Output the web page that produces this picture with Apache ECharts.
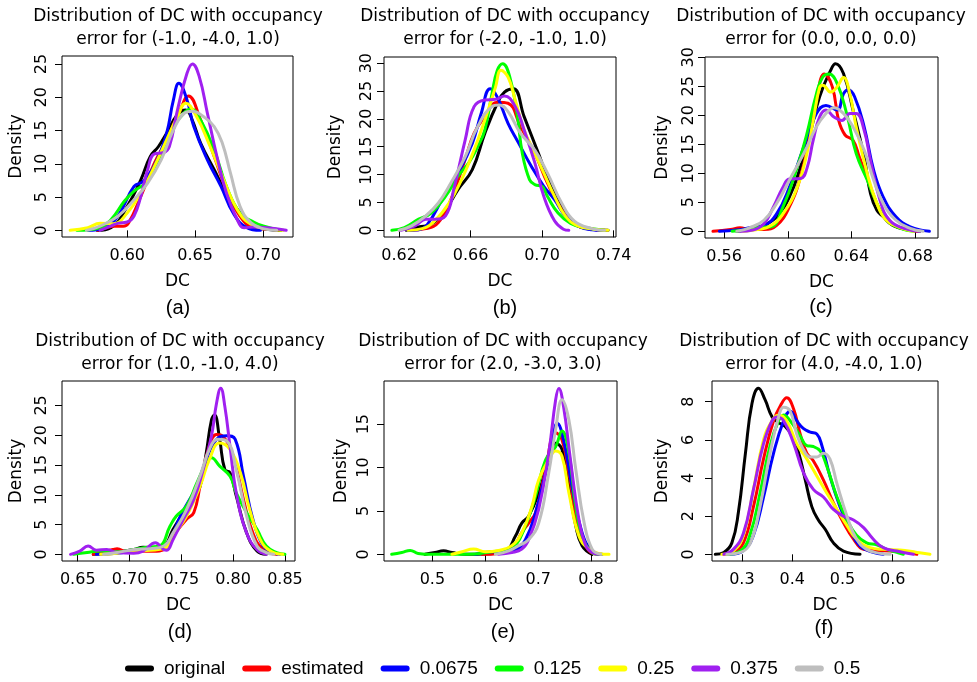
<!DOCTYPE html>
<html><head><meta charset="utf-8">
<script src="https://cdn.jsdelivr.net/npm/echarts@6/dist/echarts.min.js"></script>
<style>html,body{margin:0;padding:0;background:#fff}#c{width:977px;height:682px}</style>
</head><body><div id="c"></div>
<script>
// ---------- categories / labels ----------
const seriesNames = ['original', 'estimated', '0.0675', '0.125', '0.25', '0.375', '0.5'];
const seriesColors = ['#000000', '#ff0000', '#0000ff', '#00ff00', '#ffff00', '#a020f0', '#bebebe'];
const panelTitles = [
  'Distribution of DC with occupancy\nerror for (-1.0, -4.0, 1.0)',
  'Distribution of DC with occupancy\nerror for (-2.0, -1.0, 1.0)',
  'Distribution of DC with occupancy\nerror for (0.0, 0.0, 0.0)',
  'Distribution of DC with occupancy\nerror for (1.0, -1.0, 4.0)',
  'Distribution of DC with occupancy\nerror for (2.0, -3.0, 3.0)',
  'Distribution of DC with occupancy\nerror for (4.0, -4.0, 1.0)'
];
const panelCaptions = ['(a)', '(b)', '(c)', '(d)', '(e)', '(f)'];
const xAxisName = 'DC';
const yAxisName = 'Density';

// ---------- tick labels ----------
const xTicksA = [0.60, 0.65, 0.70];
const xTicksB = [0.62, 0.66, 0.70, 0.74];
const xTicksC = [0.56, 0.60, 0.64, 0.68];
const xTicksD = [0.65, 0.70, 0.75, 0.80, 0.85];
const xTicksE = [0.5, 0.6, 0.7, 0.8];
const xTicksF = [0.3, 0.4, 0.5, 0.6];
const yTicksA = [0, 5, 10, 15, 20, 25];
const yTicksB = [0, 5, 10, 15, 20, 25, 30];
const yTicksC = [0, 5, 10, 15, 20, 25, 30];
const yTicksD = [0, 5, 10, 15, 20, 25];
const yTicksE = [0, 5, 10, 15];
const yTicksF = [0, 2, 4, 6, 8];

// ---------- density curves [DC, density] ----------
// panel (a)
const a_original = [[0.578,0],[0.588,0.4],[0.600,3.6],[0.610,7.6],[0.617,11.1],[0.623,12.6],[0.629,14.6],[0.637,17.4],[0.643,18.1],[0.648,16.5],[0.654,13.1],[0.664,9.1],[0.673,5.6],[0.683,2.6],[0.693,0.65],[0.703,0.15],[0.712,0]];
const a_estimated = [[0.578,0],[0.585,0.4],[0.590,0.6],[0.597,0.6],[0.601,1.1],[0.610,5.1],[0.620,10.1],[0.629,13.6],[0.639,18.1],[0.645,20.2],[0.654,16.6],[0.664,11.1],[0.673,6.1],[0.683,2.1],[0.693,0.4],[0.703,0.2],[0.713,0]];
const a_0_0675 = [[0.571,0],[0.583,0.3],[0.593,2.1],[0.605,6.6],[0.612,7.4],[0.622,10.6],[0.629,14.6],[0.634,19.6],[0.638,22.1],[0.644,19.6],[0.649,15.6],[0.659,10.6],[0.669,6.6],[0.678,2.6],[0.688,0.4],[0.698,0]];
const a_0_125 = [[0.563,0],[0.580,0.4],[0.588,1.6],[0.598,4.4],[0.605,5.9],[0.615,7.4],[0.625,11.6],[0.634,15.6],[0.643,17.9],[0.647,18.25],[0.654,16.6],[0.664,12.1],[0.673,6.6],[0.683,2.6],[0.693,1.25],[0.700,0.65],[0.713,0]];
const a_0_25 = [[0.558,0],[0.571,0.4],[0.580,1.05],[0.590,1.0],[0.600,2.6],[0.610,5.6],[0.620,9.6],[0.629,13.6],[0.637,17.1],[0.643,19.1],[0.651,17.1],[0.661,12.6],[0.671,7.6],[0.681,3.1],[0.691,0.9],[0.703,0.25],[0.715,0]];
const a_0_375 = [[0.580,0],[0.588,0.65],[0.593,1.05],[0.600,1.25],[0.605,2.15],[0.610,5.1],[0.615,9.1],[0.620,11.5],[0.627,11.7],[0.631,12.6],[0.637,18.1],[0.644,23.6],[0.648,25.0],[0.653,23.1],[0.659,17.6],[0.666,11.1],[0.673,5.6],[0.681,1.6],[0.686,0.4],[0.693,0.5],[0.703,0.4],[0.717,0]];
const a_0_5 = [[0.570,0],[0.580,0.65],[0.593,2.1],[0.605,4.6],[0.615,7.1],[0.625,10.6],[0.634,15.1],[0.642,17.6],[0.648,17.9],[0.656,17.1],[0.664,15.6],[0.670,13.1],[0.676,8.6],[0.683,3.6],[0.691,1.15],[0.700,0.25],[0.710,0]];
// panel (b)
const b_original = [[0.624,0],[0.631,0.6],[0.638,1.1],[0.646,3.7],[0.653,7.3],[0.661,10.9],[0.668,17.4],[0.675,22.8],[0.679,24.8],[0.684,25.4],[0.690,20.4],[0.698,13.8],[0.705,7.9],[0.713,3.1],[0.720,0.8],[0.728,0.2],[0.737,0]];
const b_estimated = [[0.626,0],[0.635,0.3],[0.642,1.4],[0.649,5.5],[0.657,12.7],[0.662,17.4],[0.668,20.4],[0.675,23.0],[0.681,22.8],[0.688,18.6],[0.696,13.8],[0.703,8.5],[0.711,3.7],[0.718,1.1],[0.728,0.2],[0.735,0]];
const b_0_0675 = [[0.625,0],[0.631,0.1],[0.636,1.1],[0.644,5.5],[0.653,10.3],[0.661,15.6],[0.666,21.0],[0.671,25.4],[0.675,23.9],[0.681,19.2],[0.687,15.6],[0.694,11.5],[0.701,7.9],[0.707,5.5],[0.713,2.6],[0.720,0.8],[0.728,0.1],[0.733,0]];
const b_0_125 = [[0.616,0],[0.623,0.5],[0.631,2.0],[0.638,3.1],[0.646,6.1],[0.653,9.7],[0.659,12.1],[0.664,15.0],[0.668,18.0],[0.672,24.5],[0.675,28.7],[0.678,29.9],[0.682,27.5],[0.686,21.0],[0.689,13.8],[0.693,9.1],[0.696,8.2],[0.700,7.9],[0.703,6.1],[0.709,3.1],[0.716,1.25],[0.724,0.5],[0.735,0]];
const b_0_25 = [[0.625,0],[0.633,0.3],[0.640,1.7],[0.648,4.9],[0.655,9.1],[0.662,14.4],[0.668,19.8],[0.674,25.7],[0.677,28.7],[0.681,27.5],[0.685,23.4],[0.690,18.0],[0.696,13.8],[0.701,10.3],[0.707,6.1],[0.713,2.6],[0.720,0.8],[0.729,0.2],[0.737,0]];
const b_0_375 = [[0.621,0],[0.629,0.8],[0.635,2.0],[0.640,2.0],[0.646,2.6],[0.651,7.9],[0.657,16.2],[0.662,22.2],[0.668,23.4],[0.674,23.5],[0.679,24.1],[0.685,22.2],[0.690,18.0],[0.696,12.1],[0.701,6.1],[0.707,1.7],[0.712,0.2],[0.715,0]];
const b_0_5 = [[0.620,0],[0.627,0.8],[0.635,2.6],[0.642,4.9],[0.649,8.5],[0.657,13.2],[0.664,18.6],[0.672,22.2],[0.676,22.5],[0.681,21.3],[0.688,17.4],[0.696,14.4],[0.703,10.3],[0.711,4.9],[0.718,1.7],[0.728,0.3],[0.735,0]];
// panel (c)
const c_original = [[0.568,0],[0.576,0.3],[0.585,1.0],[0.593,2.5],[0.601,5.9],[0.608,11.1],[0.614,16.8],[0.620,23.2],[0.627,27.8],[0.630,28.9],[0.635,27.2],[0.641,20.9],[0.648,12.8],[0.652,6.5],[0.656,3.6],[0.660,2.5],[0.666,1.0],[0.675,0.3],[0.683,0]];
const c_estimated = [[0.553,0],[0.564,0.3],[0.570,0.6],[0.576,0.3],[0.585,0.3],[0.593,1.0],[0.601,4.2],[0.608,9.4],[0.614,16.8],[0.618,22.6],[0.623,27.1],[0.628,24.9],[0.632,19.1],[0.636,16.6],[0.641,15.7],[0.645,12.8],[0.652,7.6],[0.658,3.6],[0.664,1.4],[0.673,0.5],[0.681,0]];
const c_0_0675 = [[0.557,0],[0.568,0.2],[0.576,0.6],[0.585,1.0],[0.593,3.0],[0.601,7.6],[0.610,14.5],[0.618,20.3],[0.624,21.7],[0.631,20.9],[0.635,23.7],[0.638,24.4],[0.642,23.2],[0.648,18.0],[0.654,10.5],[0.660,5.9],[0.668,2.5],[0.677,0.75],[0.689,0]];
const c_0_125 = [[0.565,0],[0.576,0.3],[0.583,0.75],[0.589,0.75],[0.597,4.2],[0.606,11.1],[0.612,16.8],[0.618,23.7],[0.622,26.6],[0.626,27.1],[0.631,25.5],[0.637,20.3],[0.643,13.4],[0.650,8.8],[0.656,4.8],[0.662,1.9],[0.671,0.5],[0.679,0]];
const c_0_25 = [[0.572,0],[0.581,0.3],[0.589,0.9],[0.597,3.0],[0.606,7.6],[0.612,13.4],[0.616,19.1],[0.620,24.8],[0.622,25.2],[0.627,24.0],[0.631,24.9],[0.635,26.5],[0.639,23.7],[0.643,18.0],[0.650,9.9],[0.656,4.8],[0.662,1.9],[0.671,0.6],[0.679,0]];
const c_0_375 = [[0.570,0],[0.578,0.2],[0.585,1.3],[0.591,4.2],[0.597,7.6],[0.601,9.0],[0.608,9.1],[0.612,10.8],[0.616,15.7],[0.620,19.7],[0.624,20.9],[0.629,19.7],[0.634,19.1],[0.639,20.3],[0.643,20.3],[0.648,17.4],[0.652,12.2],[0.658,5.3],[0.664,1.9],[0.673,0.5],[0.683,0]];
const c_0_5 = [[0.568,0],[0.576,0.6],[0.585,1.9],[0.593,4.8],[0.601,8.8],[0.610,13.4],[0.618,18.0],[0.624,20.3],[0.629,21.3],[0.635,20.3],[0.641,18.0],[0.648,14.0],[0.654,8.8],[0.660,4.8],[0.668,1.9],[0.677,0.5],[0.685,0]];
// panel (d)
const d_original = [[0.665,0],[0.672,0.1],[0.688,0.4],[0.704,0.8],[0.713,1.2],[0.723,1.1],[0.733,1.4],[0.742,4.2],[0.752,7.0],[0.758,8.4],[0.768,11.4],[0.774,17.0],[0.779,22.5],[0.782,23.4],[0.787,19.3],[0.792,14.2],[0.797,13.7],[0.803,9.8],[0.813,3.6],[0.823,0.55],[0.832,0]];
const d_estimated = [[0.665,0],[0.672,0.3],[0.684,0.8],[0.688,0.95],[0.697,0.4],[0.710,0.55],[0.723,0.5],[0.733,0.8],[0.742,3.1],[0.755,5.9],[0.762,7.0],[0.768,11.4],[0.776,17.6],[0.784,20.1],[0.790,19.8],[0.800,16.5],[0.810,9.2],[0.819,3.6],[0.829,0.8],[0.842,0]];
const d_0_0675 = [[0.668,0],[0.688,0.2],[0.704,0.55],[0.717,0.8],[0.729,0.95],[0.739,2.5],[0.749,6.4],[0.757,8.9],[0.765,11.4],[0.774,15.9],[0.784,19.3],[0.794,19.9],[0.802,19.3],[0.810,13.1],[0.819,5.9],[0.829,1.4],[0.839,0.3],[0.845,0]];
const d_0_125 = [[0.646,0],[0.659,0.3],[0.672,0.55],[0.688,0.4],[0.704,0.8],[0.717,1.2],[0.729,1.4],[0.739,4.7],[0.745,6.4],[0.755,8.1],[0.765,12.0],[0.774,15.3],[0.779,16.2],[0.787,14.8],[0.797,13.1],[0.803,10.3],[0.813,7.0],[0.823,4.2],[0.832,1.4],[0.842,0.3],[0.850,0]];
const d_0_25 = [[0.672,0],[0.688,0.2],[0.704,0.55],[0.720,0.7],[0.733,0.95],[0.742,3.1],[0.755,6.4],[0.768,11.4],[0.777,15.9],[0.787,18.7],[0.797,17.6],[0.807,13.7],[0.816,7.5],[0.826,2.5],[0.836,0.55],[0.848,0]];
const d_0_375 = [[0.643,0],[0.652,0.55],[0.660,1.4],[0.668,0.7],[0.678,0.8],[0.688,0.3],[0.704,0.2],[0.713,0.55],[0.725,1.95],[0.733,0.8],[0.736,0.7],[0.742,2.5],[0.752,5.9],[0.762,9.2],[0.771,14.2],[0.779,19.8],[0.784,25.4],[0.788,27.9],[0.792,24.8],[0.797,18.1],[0.803,10.3],[0.813,3.6],[0.823,0.8],[0.832,0]];
const d_0_5 = [[0.675,0],[0.688,0.3],[0.704,0.8],[0.720,0.95],[0.733,1.4],[0.742,3.6],[0.755,7.5],[0.768,13.1],[0.777,17.6],[0.785,19.3],[0.794,19.0],[0.803,14.2],[0.813,6.4],[0.823,1.4],[0.832,0.3],[0.839,0]];
// panel (e)
const e_original = [[0.486,0],[0.505,0.2],[0.521,0.4],[0.537,0.2],[0.562,0],[0.600,0.05],[0.638,0.4],[0.657,2.1],[0.669,3.6],[0.682,4.4],[0.701,7.1],[0.720,10.9],[0.733,12.8],[0.745,12.1],[0.758,7.8],[0.771,3.3],[0.783,1.0],[0.802,0]];
const e_estimated = [[0.594,0],[0.625,0.1],[0.650,0.6],[0.669,2.5],[0.682,3.6],[0.695,4.8],[0.714,9.8],[0.733,14.0],[0.745,13.2],[0.758,9.4],[0.777,2.9],[0.796,0.4],[0.815,0]];
const e_0_0675 = [[0.581,0],[0.612,0.3],[0.638,0.2],[0.657,0.45],[0.676,1.7],[0.695,4.8],[0.714,9.4],[0.727,13.2],[0.736,15.1],[0.748,13.2],[0.764,7.8],[0.783,2.5],[0.802,0.4],[0.821,0]];
const e_0_125 = [[0.423,0],[0.442,0.2],[0.458,0.45],[0.473,0.1],[0.499,0],[0.549,0],[0.581,0.05],[0.612,0.3],[0.638,0.45],[0.657,1.0],[0.676,3.3],[0.695,6.7],[0.714,10.9],[0.733,12.4],[0.745,14.2],[0.758,11.7],[0.771,5.5],[0.783,2.1],[0.802,0.2],[0.815,0]];
const e_0_25 = [[0.537,0],[0.556,0.3],[0.578,0.6],[0.600,0.3],[0.625,0.45],[0.650,1.0],[0.669,2.5],[0.688,5.5],[0.701,8.6],[0.720,10.9],[0.733,11.9],[0.745,11.3],[0.758,7.1],[0.777,2.1],[0.796,0.6],[0.815,0.1],[0.834,0]];
const e_0_375 = [[0.625,0],[0.650,0.2],[0.669,0.6],[0.682,1.7],[0.701,5.2],[0.720,11.7],[0.733,17.8],[0.739,19.1],[0.748,17.0],[0.761,10.9],[0.777,4.0],[0.790,1.0],[0.802,0.2],[0.815,0]];
const e_0_5 = [[0.619,0],[0.644,0.4],[0.663,1.0],[0.682,1.7],[0.701,3.6],[0.720,9.4],[0.733,14.4],[0.745,17.8],[0.758,15.5],[0.771,9.8],[0.787,3.6],[0.802,0.6],[0.818,0]];
// panel (f)
const f_original = [[0.247,0],[0.264,0.1],[0.280,0.6],[0.293,2.2],[0.307,5.3],[0.320,7.9],[0.333,8.7],[0.346,8.1],[0.360,7.2],[0.373,6.9],[0.386,6.7],[0.400,6.2],[0.413,5.3],[0.426,3.9],[0.439,2.5],[0.452,1.8],[0.466,1.3],[0.482,0.6],[0.502,0.17],[0.535,0]];
const f_estimated = [[0.264,0],[0.283,0.1],[0.303,0.6],[0.323,2.5],[0.343,5.0],[0.363,7.0],[0.379,7.9],[0.389,8.2],[0.403,7.6],[0.416,6.3],[0.429,5.3],[0.442,4.9],[0.462,3.9],[0.482,2.7],[0.502,1.65],[0.522,0.8],[0.542,0.26],[0.568,0.2],[0.595,0.17],[0.628,0.1],[0.648,0]];
const f_0_0675 = [[0.277,0],[0.303,0.2],[0.323,1.0],[0.343,3.0],[0.363,5.3],[0.383,7.0],[0.396,7.5],[0.409,7.0],[0.422,6.6],[0.436,6.4],[0.449,6.3],[0.459,5.7],[0.475,4.1],[0.495,2.5],[0.515,1.3],[0.535,0.43],[0.561,0.1],[0.581,0]];
const f_0_125 = [[0.270,0],[0.297,0.17],[0.317,1.1],[0.336,3.2],[0.356,5.7],[0.373,7.0],[0.383,7.3],[0.396,7.0],[0.416,6.2],[0.429,5.7],[0.442,5.65],[0.456,5.4],[0.469,4.6],[0.489,3.0],[0.509,1.8],[0.528,1.0],[0.548,0.6],[0.568,0.5],[0.588,0.26],[0.608,0.1],[0.621,0]];
const f_0_25 = [[0.260,0],[0.283,0.17],[0.303,1.0],[0.323,3.4],[0.343,6.0],[0.360,7.0],[0.373,7.3],[0.389,7.0],[0.409,5.8],[0.429,5.0],[0.449,4.1],[0.469,3.2],[0.489,2.35],[0.509,1.5],[0.528,0.8],[0.555,0.35],[0.581,0.26],[0.614,0.23],[0.648,0.1],[0.674,0]];
const f_0_375 = [[0.264,0],[0.283,0.26],[0.303,1.1],[0.323,3.4],[0.343,5.8],[0.360,7.0],[0.370,7.2],[0.383,7.0],[0.403,5.8],[0.422,4.3],[0.442,3.4],[0.462,3.0],[0.482,2.35],[0.502,2.0],[0.522,1.8],[0.542,1.4],[0.561,0.8],[0.581,0.35],[0.608,0.17],[0.641,0]];
const f_0_5 = [[0.270,0],[0.297,0.1],[0.317,0.6],[0.336,2.5],[0.356,5.3],[0.373,7.2],[0.383,7.7],[0.396,7.5],[0.409,6.3],[0.422,5.5],[0.436,5.1],[0.449,5.1],[0.462,5.3],[0.475,5.0],[0.489,3.7],[0.509,2.0],[0.528,0.8],[0.548,0.26],[0.575,0.05],[0.595,0]];

const panelCurves = [
  [a_original, a_estimated, a_0_0675, a_0_125, a_0_25, a_0_375, a_0_5],
  [b_original, b_estimated, b_0_0675, b_0_125, b_0_25, b_0_375, b_0_5],
  [c_original, c_estimated, c_0_0675, c_0_125, c_0_25, c_0_375, c_0_5],
  [d_original, d_estimated, d_0_0675, d_0_125, d_0_25, d_0_375, d_0_5],
  [e_original, e_estimated, e_0_0675, e_0_125, e_0_25, e_0_375, e_0_5],
  [f_original, f_estimated, f_0_0675, f_0_125, f_0_25, f_0_375, f_0_5]
];
const panelXTicks = [xTicksA, xTicksB, xTicksC, xTicksD, xTicksE, xTicksF];
const panelYTicks = [yTicksA, yTicksB, yTicksC, yTicksD, yTicksE, yTicksF];
const xDecimals = [2, 2, 2, 2, 1, 1];

// ---------- layout (positions / ranges) ----------
const layout = [
  {left: 62,  top: 56,  width: 231, height: 181, xMin: 0.552,  xMax: 0.722,  yMin: -1.0,  yMax: 26.2,  titleX: 178, titleY: 5.5, capY: 298, yLabMargin: 12, yNameGap: 37},
  {left: 384, top: 57,  width: 232, height: 180, xMin: 0.6116, xMax: 0.7414, yMin: -1.2,  yMax: 31.1,  titleX: 505, titleY: 5.5, capY: 298, yLabMargin: 9,  yNameGap: 40},
  {left: 705, top: 57,  width: 233, height: 181, xMin: 0.548,  xMax: 0.6944, yMin: -1.16, yMax: 30.05, titleX: 821, titleY: 5.5, capY: 297, yLabMargin: 8,  yNameGap: 34},
  {left: 62,  top: 381, width: 233, height: 180, xMin: 0.6348, xMax: 0.8597, yMin: -1.12, yMax: 29.1,  titleX: 180, titleY: 330, capY: 622, yLabMargin: 12, yNameGap: 37},
  {left: 384, top: 381, width: 233, height: 180, xMin: 0.4085, xMax: 0.849,  yMin: -0.77, yMax: 19.97, titleX: 503, titleY: 330, capY: 622, yLabMargin: 12, yNameGap: 34},
  {left: 712, top: 381, width: 226, height: 180, xMin: 0.2405, xMax: 0.69,   yMin: -0.35, yMax: 9.08,  titleX: 824, titleY: 330, capY: 618, yLabMargin: 15, yNameGap: 41}
];

const panelFont = 'DejaVu Sans';
const grids = [], xAxes = [], yAxes = [], titles = [], series = [];
layout.forEach((L, p) => {
  grids.push({left: L.left, top: L.top, width: L.width, height: L.height, show: true,
    borderColor: '#000', borderWidth: 1, backgroundColor: 'transparent', containLabel: false});
  const dec = xDecimals[p];
  xAxes.push({type: 'value', gridIndex: p, min: L.xMin, max: L.xMax,
    name: xAxisName, nameLocation: 'middle', nameGap: 36,
    nameTextStyle: {fontFamily: panelFont, fontSize: 17, color: '#000'},
    axisLine: {show: false}, splitLine: {show: false},
    axisTick: {show: true, inside: false, length: 7, lineStyle: {color: '#000', width: 1}, customValues: panelXTicks[p]},
    axisLabel: {show: true, margin: 11, fontFamily: panelFont, fontSize: 16, color: '#000',
      customValues: panelXTicks[p], formatter: v => Number(v).toFixed(dec)}
  });
  yAxes.push({type: 'value', gridIndex: p, min: L.yMin, max: L.yMax,
    name: yAxisName, nameLocation: 'middle', nameGap: L.yNameGap, nameRotate: 90,
    nameTextStyle: {fontFamily: panelFont, fontSize: 17, color: '#000'},
    axisLine: {show: false}, splitLine: {show: false},
    axisTick: {show: true, inside: false, length: 7, lineStyle: {color: '#000', width: 1}, customValues: panelYTicks[p]},
    axisLabel: {show: true, rotate: 90, margin: L.yLabMargin, fontFamily: panelFont, fontSize: 16, color: '#000',
      customValues: panelYTicks[p], formatter: v => String(Math.round(v))}
  });
  titles.push({text: panelTitles[p], left: L.titleX, top: L.titleY, textAlign: 'center', padding: 0,
    textStyle: {fontFamily: panelFont, fontSize: 17, fontWeight: 'normal', color: '#000', lineHeight: 23}});
  titles.push({text: panelCaptions[p], left: L.titleX, top: L.capY, textAlign: 'center', padding: 0,
    textStyle: {fontFamily: 'Liberation Sans', fontSize: 20, fontWeight: 'normal', color: '#000'}});
  panelCurves[p].forEach((curve, s) => {
    series.push({type: 'line', name: seriesNames[s], xAxisIndex: p, yAxisIndex: p,
      data: curve, showSymbol: false, smooth: 0.45,
      lineStyle: {color: seriesColors[s], width: 3, cap: 'round', join: 'round'}, itemStyle: {color: seriesColors[s]},
      emphasis: {disabled: true}, silent: true, clip: true});
  });
});

const chart = echarts.init(document.getElementById('c'), null, {renderer: 'canvas'});
chart.setOption({
  animation: false,
  backgroundColor: '#fff',
  title: titles,
  grid: grids,
  xAxis: xAxes,
  yAxis: yAxes,
  legend: {
    data: seriesNames, left: 125, top: 659, padding: 0, itemGap: 17,
    itemWidth: 29, itemHeight: 6,
    icon: 'path://M3,0 L26,0 A3,3 0 0 1 26,6 L3,6 A3,3 0 0 1 3,0 Z',
    textStyle: {fontFamily: 'Liberation Sans', fontSize: 19, color: '#000', padding: [0, 0, 0, 5]},
    selectedMode: false
  },
  series: series
});
</script>
</body></html>
